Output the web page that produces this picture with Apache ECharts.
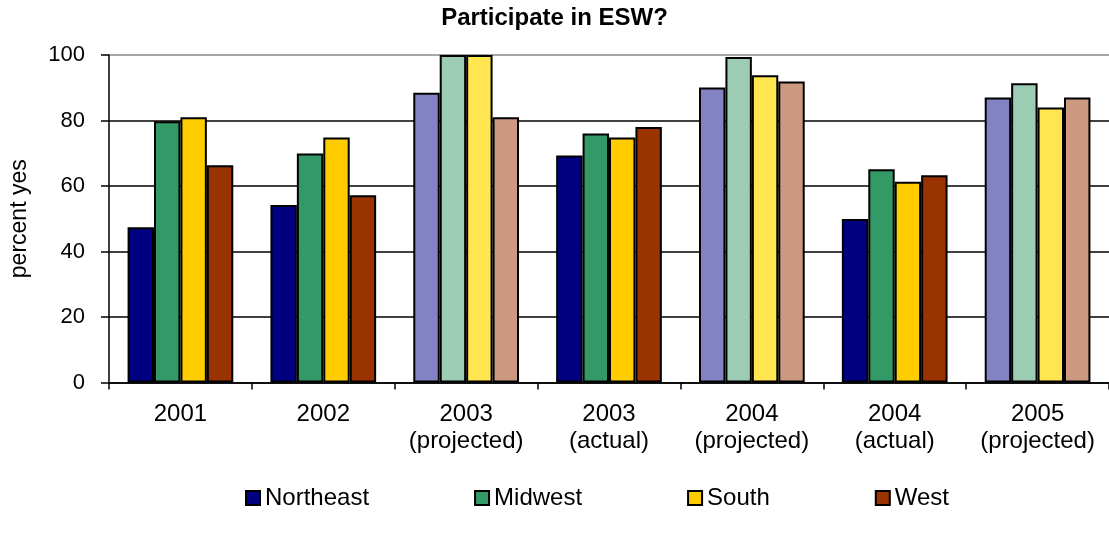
<!DOCTYPE html>
<html>
<head>
<meta charset="utf-8">
<script src="https://cdn.jsdelivr.net/npm/echarts@6/dist/echarts.min.js"></script>
<style>
  html, body { margin: 0; padding: 0; background: #fff; }
  #chart { width: 1109px; height: 538px; }
</style>
</head>
<body>
<div id="chart"></div>
<script>
// Survey periods (x axis) and which of them are projections
const categories = ['2001', '2002', '2003\n(projected)', '2003\n(actual)', '2004\n(projected)', '2004\n(actual)', '2005\n(projected)'];
const projected = [false, false, true, false, true, false, true];

// Percent answering "yes", by region
const northeast = [47.4, 54.2, 88.5, 69.3, 90.1, 49.9, 87.0];
const midwest   = [79.8, 69.9, 100, 76.0, 99.4, 65.1, 91.4];
const south     = [81.0, 74.8, 100, 74.8, 93.8, 61.3, 84.0];
const west      = [66.3, 57.2, 81.0, 78.0, 91.9, 63.3, 87.0];

const yTicks = [0, 20, 40, 60, 80, 100];

const regions = [
  { name: 'Northeast', values: northeast, color: '#000080', light: '#8383C3' },
  { name: 'Midwest',   values: midwest,   color: '#339966', light: '#9CCCB4' },
  { name: 'South',     values: south,     color: '#FFCC00', light: '#FFE550' },
  { name: 'West',      values: west,      color: '#993300', light: '#CC9980' }
];

const font = '"Liberation Sans", Arial, sans-serif';

const chart = echarts.init(document.getElementById('chart'), null, { renderer: 'canvas' });

chart.setOption({
  animation: false,
  backgroundColor: '#ffffff',
  textStyle: { fontFamily: font, color: '#000' },
  title: {
    text: 'Participate in ESW?',
    left: 'center',
    top: 1,
    textStyle: { fontFamily: font, fontWeight: 'bold', fontSize: 24, color: '#000' }
  },
  legend: {
    left: 245,
    top: 486,
    padding: 0,
    itemWidth: 14,
    itemHeight: 14,
    itemGap: 105,
    icon: 'rect',
    textStyle: { fontFamily: font, fontSize: 24, color: '#000' },
    data: regions.map(r => r.name)
  },
  grid: { left: 107, right: 0, top: 55, bottom: 155.5, containLabel: false },
  xAxis: {
    type: 'category',
    data: categories,
    axisLine: { lineStyle: { color: '#000', width: 1.5 } },
    axisTick: { show: true, length: 7, lineStyle: { color: '#000', width: 1.5 } },
    axisLabel: {
      fontFamily: font, fontSize: 24, color: '#000',
      margin: 18, lineHeight: 27, interval: 0
    },
    splitLine: { show: false }
  },
  yAxis: {
    type: 'value',
    min: yTicks[0],
    max: yTicks[yTicks.length - 1],
    interval: 20,
    name: 'percent yes',
    nameLocation: 'middle',
    nameRotate: 90,
    nameGap: 78,
    nameTextStyle: { fontFamily: font, fontSize: 23, color: '#000' },
    axisLine: { show: true, lineStyle: { color: '#000', width: 1.5 } },
    axisTick: { show: true, length: 8, lineStyle: { color: '#000', width: 1.5 } },
    axisLabel: { fontFamily: font, fontSize: 22, color: '#000', margin: 24 },
    splitLine: {
      show: true,
      lineStyle: { color: ['#000', '#000', '#000', '#000', '#000', '#888'], width: 1.5 }
    }
  },
  series: regions.map(r => ({
    name: r.name,
    type: 'bar',
    barGap: '0%',
    barCategoryGap: '26%',
    itemStyle: { color: r.color, borderColor: '#000', borderWidth: 2 },
    data: r.values.map((v, i) => ({
      value: v,
      itemStyle: { color: projected[i] ? r.light : r.color }
    }))
  }))
});
</script>
</body>
</html>
